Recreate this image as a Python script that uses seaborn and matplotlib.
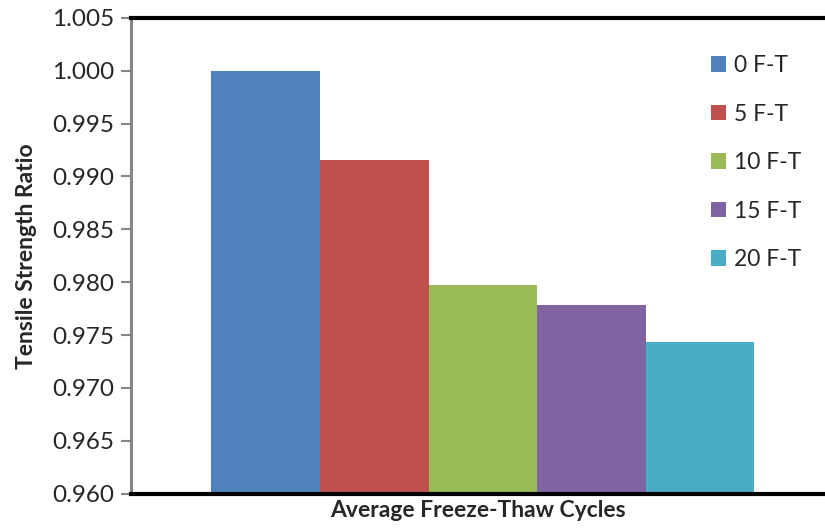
import pandas as pd
import matplotlib
matplotlib.use("Agg")
import matplotlib.pyplot as plt
from matplotlib.ticker import FormatStrFormatter, MultipleLocator
import seaborn as sns

# data #
cycles = ["0 F-T", "5 F-T", "10 F-T", "15 F-T", "20 F-T"]
ratio = [1.000, 0.9916, 0.9797, 0.9778, 0.9743]
bar_colors = ["#4F81BD", "#C0504D", "#9BBB59", "#8064A2", "#4BACC6"]

df = pd.DataFrame({"cycle": cycles, "ratio": ratio})

sns.set_style("white")
plt.rcParams['font.family'] = ['Lato', 'DejaVu Sans']

fig = plt.figure(figsize=(8.25, 5.31), dpi=100)
ax = fig.add_axes([131/825, 1-493.5/531, 1-131/825, (493.5-18)/531])

sns.barplot(data=df, x="cycle", y="ratio", hue="cycle", palette=bar_colors,
            width=1.0, dodge=False, saturation=1, legend=True,
            linewidth=0, ax=ax)

ax.set_ylim(0.960, 1.005)
ax.set_xlim(-1.24, 5.15)
ax.yaxis.set_major_locator(MultipleLocator(0.005))
ax.yaxis.set_major_formatter(FormatStrFormatter('%.3f'))
ax.set_xticks([])

ax.set_ylabel("Tensile Strength Ratio", fontsize=16.5, fontweight='bold', labelpad=11)
ax.set_xlabel("Average Freeze-Thaw Cycles", fontsize=16.5, fontweight='bold', labelpad=5)
ax.tick_params(axis='y', left=True, direction='out', length=7, width=1.5,
               color='#868686', labelsize=17.5, pad=5)

# spines #
ax.spines['right'].set_visible(False)
ax.spines['left'].set_color('#868686')
ax.spines['left'].set_linewidth(2.2)
ax.spines['top'].set_color('black')
ax.spines['top'].set_linewidth(3)
ax.spines['bottom'].set_color('black')
ax.spines['bottom'].set_linewidth(3)

# legend #
leg = ax.legend(loc='upper left', bbox_to_anchor=(702/825, 1-46/531),
                bbox_transform=fig.transFigure, frameon=False,
                fontsize=16.5, handlelength=0.65, handleheight=0.65,
                handletextpad=0.35, labelspacing=1.2, borderaxespad=0)

plt.savefig("out.png", dpi=100)
